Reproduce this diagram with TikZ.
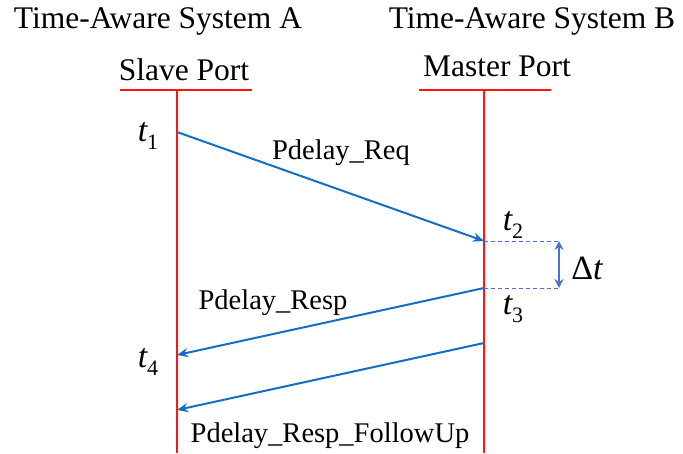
\documentclass[tikz,border=0pt]{standalone}
\usepackage{fontspec}
\setmainfont{Liberation Serif}
\newfontfamily\tnr{Liberation Serif}
\usetikzlibrary{arrows.meta}
\definecolor{lifered}{RGB}{255,20,20}
\definecolor{msgblue}{RGB}{20,110,195}
\definecolor{dashblue}{RGB}{75,115,200}
\newcommand{\tsub}[1]{{\itshape t}\raisebox{-0.22em}{\fontsize{22}{24}\selectfont #1}}
\begin{document}
\begin{tikzpicture}[x=1pt,y=-1pt,
  big/.style={font=\tnr\fontsize{31.5}{36}\selectfont, inner sep=0pt},
  lbl/.style={font=\tnr\fontsize{28.5}{32}\selectfont, inner sep=0pt},
  tlbl/.style={font=\tnr\fontsize{34}{36}\selectfont, inner sep=0pt},
  life/.style={draw=lifered, line width=2.4pt},
  msg/.style={draw=msgblue, line width=2pt, -{Stealth[length=11pt,width=9pt]}},
  guide/.style={draw=dashblue, line width=1pt, dashed, dash pattern=on 4pt off 3pt},
  delta/.style={draw=dashblue, line width=2pt, {Stealth[length=9pt,width=9pt]}-{Stealth[length=9pt,width=9pt]}}
]
\useasboundingbox (0,0) rectangle (683,453);
% titles
\node[big] (sysA) at (158,21) {Time-Aware System A};
\node[big] (sysB) at (532,21) {Time-Aware System B};
\node[big] (slave) at (184,70) {Slave Port};
\node[big] (master) at (497,66) {Master Port};
% underlines
\coordinate (ulA1) at (120,90); \coordinate (ulA2) at (252,90);
\coordinate (ulB1) at (419,90); \coordinate (ulB2) at (551,90);
\draw[life] (ulA1) -- (ulA2);
\draw[life] (ulB1) -- (ulB2);
% lifelines
\coordinate (Atop) at (177,90); \coordinate (Abot) at (177,453);
\coordinate (Btop) at (484,90); \coordinate (Bbot) at (484,453);
\draw[life] (Atop) -- (Abot);
\draw[life] (Btop) -- (Bbot);
% event points
\coordinate (p1) at (177,132);
\coordinate (p2) at (484,241);
\coordinate (p3) at (484,288);
\coordinate (p4) at (177,355);
\coordinate (p5) at (484,343);
\coordinate (p6) at (177,410);
\coordinate (d2) at (559,241);
\coordinate (d3) at (559,288);
% messages
\draw[msg] (p1) -- (p2);
\draw[msg] (p3) -- (p4);
\draw[msg] (p5) -- (p6);
% delta
\draw[guide] (p2) -- (d2);
\draw[guide] (p3) -- (d3);
\draw[delta] (d2) -- (d3);
% labels
\node[lbl] (req) at (341,153) {Pdelay\_Req};
\node[lbl] (resp) at (273,303) {Pdelay\_Resp};
\node[lbl] (fup) at (330,436) {Pdelay\_Resp\_FollowUp};
\node[tlbl] (t1) at (148,136) {\tsub{1}};
\node[tlbl] (t2) at (513,225) {\tsub{2}};
\node[tlbl] (t3) at (513,309) {\tsub{3}};
\node[tlbl] (t4) at (148,362) {\tsub{4}};
\node[tlbl] (dt) at (587,268) {Δ{\itshape t}};
\end{tikzpicture}
\end{document}
